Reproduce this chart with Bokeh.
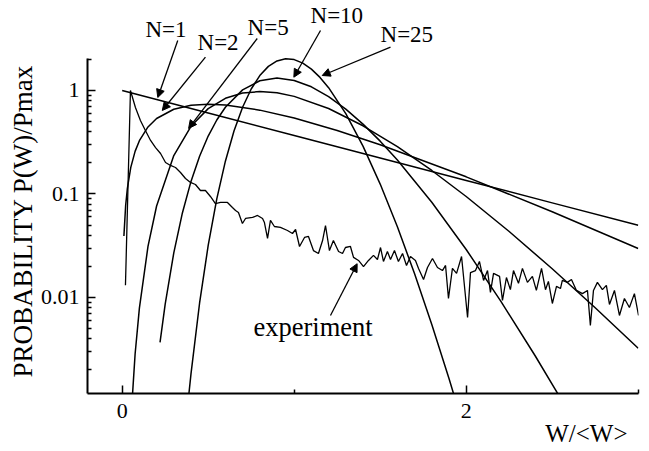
from bokeh.plotting import figure
from bokeh.models import Range1d, FixedTicker, CustomJSTickFormatter, Arrow, NormalHead, Title
from bokeh.core.properties import value
from bokeh.embed import file_html
from bokeh.resources import INLINE

# ---------------- data ----------------
N1_W = [0, 0.5, 1, 1.5, 2, 2.5, 3]
N1_P = [1.0, 0.6065, 0.3679, 0.2231, 0.1353, 0.0821, 0.0498]

N2_W = [0.01, 0.02, 0.03, 0.05, 0.075, 0.1, 0.15, 0.2, 0.3, 0.4, 0.5, 0.6, 0.8, 1.0, 1.25, 1.5, 2.0, 2.5, 3.0]
N2_P = [0.0392, 0.0769, 0.1130, 0.1810, 0.2582, 0.3275, 0.4445, 0.5363, 0.6586, 0.7189, 0.7358, 0.7229,
        0.6460, 0.5413, 0.4104, 0.2987, 0.1465, 0.0674, 0.0297]

N5_W = [0.05, 0.075, 0.1, 0.15, 0.2, 0.3, 0.4, 0.5, 0.6, 0.7, 0.8, 0.9, 1.0, 1.2, 1.4, 1.6, 1.8, 2.0,
        2.25, 2.5, 2.75, 3.0]
N5_P = [0.000634, 0.00283, 0.00790, 0.03115, 0.0766, 0.2353, 0.4511, 0.6680, 0.8401, 0.9440, 0.9768,
        0.9490, 0.8773, 0.6693, 0.4561, 0.2862, 0.1687, 0.0946, 0.0434, 0.01895, 0.00795, 0.00323]

N10_W = [0.22, 0.25, 0.3, 0.35, 0.4, 0.45, 0.5, 0.55, 0.6, 0.7, 0.8, 0.9, 1.0, 1.1, 1.2, 1.3, 1.4, 1.5,
         1.6, 1.8, 2.0, 2.2, 2.4, 2.6]
N10_P = [0.00369, 0.00862, 0.0270, 0.0656, 0.1323, 0.2316, 0.3628, 0.5187, 0.6887, 1.0141, 1.2411,
         1.3178, 1.2512, 1.0853, 0.8737, 0.6606, 0.4734, 0.3241, 0.2131, 0.0833, 0.0291, 0.00928,
         0.00275, 0.000764]

N25_W = [0.38, 0.4, 0.45, 0.5, 0.55, 0.6, 0.65, 0.7, 0.75, 0.8, 0.85, 0.9, 0.95, 1.0, 1.05, 1.1, 1.15,
         1.2, 1.3, 1.4, 1.5, 1.6, 1.7, 1.8, 1.9, 2.0]
N25_P = [0.000881, 0.00183, 0.00885, 0.0318, 0.0898, 0.2075, 0.4059, 0.6887, 1.0333, 1.3935, 1.7103,
         1.9319, 2.0263, 1.9882, 1.8372, 1.6073, 1.3384, 1.0649, 0.5968, 0.2901, 0.1247, 0.0482,
         0.01694, 0.00549, 0.00165, 0.000463]

EXP_W = [0.019, 0.048, 0.077, 0.106, 0.135, 0.165, 0.194, 0.223, 0.252, 0.281,
         0.310, 0.339, 0.368, 0.397, 0.426, 0.455, 0.484, 0.513, 0.542, 0.572,
         0.612, 0.641, 0.659, 0.676, 0.699, 0.717, 0.758, 0.787, 0.816, 0.827,
         0.845, 0.862, 0.885, 0.920, 0.961, 0.990, 1.008, 1.031, 1.060, 1.083,
         1.112, 1.141, 1.165, 1.182, 1.205, 1.228, 1.258, 1.281, 1.298, 1.327,
         1.345, 1.374, 1.403, 1.432, 1.461, 1.484, 1.502, 1.519, 1.542, 1.560,
         1.583, 1.606, 1.630, 1.653, 1.676, 1.705, 1.723, 1.752, 1.775, 1.804,
         1.833, 1.862, 1.880, 1.897, 1.920, 1.944, 1.973, 2.008, 2.025, 2.054,
         2.077, 2.101, 2.124, 2.141, 2.159, 2.194, 2.211, 2.234, 2.257, 2.275,
         2.304, 2.327, 2.356, 2.385, 2.408, 2.438, 2.461, 2.478, 2.501, 2.525,
         2.548, 2.559, 2.588, 2.612, 2.641, 2.676, 2.705, 2.722, 2.740, 2.763,
         2.792, 2.815, 2.833, 2.862, 2.891, 2.920, 2.949, 2.978, 3.002]
EXP_P = [0.0131, 1.0, 0.685, 0.513, 0.411, 0.329, 0.281, 0.246, 0.2015, 0.1886,
         0.1803, 0.1613, 0.1412, 0.1292, 0.1235, 0.1081, 0.1081, 0.0946, 0.0809, 0.0828,
         0.0828, 0.0741, 0.0693, 0.0663, 0.0519, 0.0580, 0.0593, 0.0620, 0.0580, 0.0530,
         0.0372, 0.0555, 0.0485, 0.0475, 0.0444, 0.0415, 0.0454, 0.0311, 0.0380, 0.0389,
         0.0284, 0.0266, 0.0355, 0.0496, 0.0284, 0.0355, 0.0278, 0.0266, 0.0304, 0.0311,
         0.0244, 0.0228, 0.0199, 0.0228, 0.0255, 0.0233, 0.0304, 0.0223, 0.0278, 0.0233,
         0.0284, 0.0223, 0.0266, 0.0204, 0.0249, 0.0228, 0.0191, 0.0149, 0.0195, 0.0238,
         0.0195, 0.0182, 0.0204, 0.00978, 0.0191, 0.0171, 0.0249, 0.00641, 0.0174, 0.0182,
         0.0223, 0.0146, 0.0182, 0.0112, 0.0171, 0.0160, 0.00936, 0.0156, 0.0119, 0.0182,
         0.0137, 0.0191, 0.0140, 0.0160, 0.0117, 0.0191, 0.0119, 0.0143, 0.00875, 0.0128,
         0.0122, 0.0146, 0.0140, 0.0149, 0.0117, 0.0109, 0.0117, 0.00536, 0.0117, 0.0140,
         0.0119, 0.0131, 0.00856, 0.0117, 0.00670, 0.00978, 0.00800, 0.0109, 0.00670]

# curve labels and their arrows (W, P/Pmax)
LABEL_TEXT = ["N=1", "N=2", "N=5", "N=10", "N=25"]
LABEL_W = [0.135, 0.438, 0.729, 1.095, 1.502]
LABEL_P = [3.25, 2.435, 3.40, 4.44, 2.91]
ARROW_W0 = [0.323, 0.484, 0.785, 1.153, 1.560]
ARROW_P0 = [3.04, 2.10, 3.18, 3.80, 2.62]
ARROW_W1 = [0.207, 0.233, 0.386, 0.998, 1.163]
ARROW_P1 = [0.856, 0.641, 0.430, 1.344, 1.396]

EXP_LABEL = ["experiment"]
EXP_LABEL_W = [0.763]
EXP_LABEL_P = [0.00449]
EXP_ARROW = (1.211, 0.0067, 1.366, 0.0212)

X_TICKS = [0, 2]
X_MINOR = [1, 3]
Y_TICKS = [0.01, 0.1, 1]

X_TITLE = "W/<W>"
Y_TITLE = "PROBABILITY  P(W)/Pmax"

# ---------------- figure ----------------
FONT = "'Liberation Serif', 'Times New Roman', Times, serif"
Y_LO, Y_HI = 0.001181, 7.406
Y_AXIS_TOP = 2.04

p = figure(width=641, height=451, title=None,
           x_range=Range1d(-0.2017, 3.0018), y_range=Range1d(Y_LO, Y_HI),
           y_axis_type="log", output_backend="svg", toolbar_location=None,
           min_border_left=87, min_border_right=3, min_border_top=0, min_border_bottom=58)
p.grid.visible = False
p.outline_line_color = None
p.background_fill_color = "white"
p.border_fill_color = "white"

fmt = CustomJSTickFormatter(code="return String(tick)")
for ax in (p.xaxis[0], p.yaxis[0]):
    ax.axis_line_width = 2
    ax.axis_line_color = "black"
    ax.major_tick_in = 8
    ax.major_tick_out = 0
    ax.minor_tick_in = 4
    ax.minor_tick_out = 0
    ax.major_tick_line_width = 1.5
    ax.minor_tick_line_width = 1.5
    ax.major_tick_line_color = "black"
    ax.minor_tick_line_color = "black"
    ax.major_label_text_font = FONT
    ax.major_label_text_font_size = "22px"
    ax.major_label_text_color = "black"
    ax.formatter = fmt

y_minor = [m * d for d in (0.001, 0.01, 0.1, 1) for m in range(2, 10) if m * d <= Y_AXIS_TOP]
p.xaxis[0].ticker = FixedTicker(ticks=X_TICKS, minor_ticks=X_MINOR)
p.yaxis[0].ticker = FixedTicker(ticks=Y_TICKS, minor_ticks=y_minor)
p.yaxis[0].bounds = (Y_LO, Y_AXIS_TOP)
p.xaxis[0].major_label_standoff = 10
p.yaxis[0].major_label_standoff = 8

# axis titles
p.add_layout(Title(text=X_TITLE, align="right", offset=11, standoff=-6,
                   text_font=FONT, text_font_size="25px", text_font_style="normal",
                   text_color="black"), "below")
p.add_layout(Title(text=Y_TITLE, align="left", offset=16, standoff=0,
                   text_font=FONT, text_font_size="27px", text_font_style="normal",
                   text_color="black"), "left")

for xs, ys in [(N1_W, N1_P), (N2_W, N2_P), (N5_W, N5_P), (N10_W, N10_P), (N25_W, N25_P)]:
    p.line(xs, ys, line_color="black", line_width=1.5)
p.line(EXP_W, EXP_P, line_color="black", line_width=1.3)

p.text(x=LABEL_W, y=LABEL_P, text=LABEL_TEXT, text_font=value(FONT), text_font_size=value("23px"),
       text_align="left", text_baseline="alphabetic", text_color="black", y_offset=-8)
p.text(x=EXP_LABEL_W, y=EXP_LABEL_P, text=EXP_LABEL, text_font=value(FONT),
       text_font_size=value("26.5px"), text_align="left", text_baseline="alphabetic",
       text_color="black", y_offset=-6)


def add_arrow(x0, y0, x1, y1):
    p.add_layout(Arrow(end=NormalHead(size=8, fill_color="black", line_color="black", line_width=1),
                       x_start=x0, y_start=y0, x_end=x1, y_end=y1,
                       line_color="black", line_width=1.3))


for a, b, c, d in zip(ARROW_W0, ARROW_P0, ARROW_W1, ARROW_P1):
    add_arrow(a, b, c, d)
add_arrow(*EXP_ARROW)

open("out.html", "w").write(file_html(p, INLINE))
